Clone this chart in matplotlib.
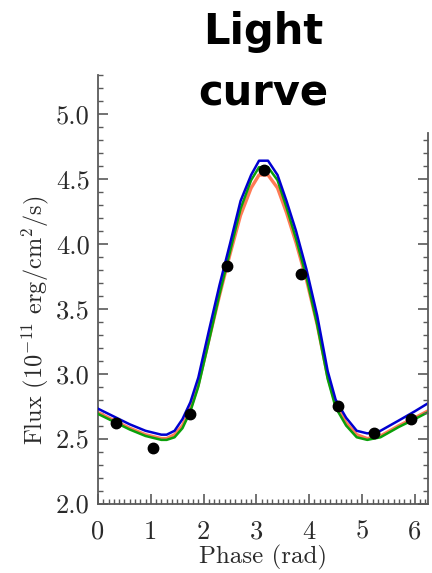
import numpy as np
import matplotlib
matplotlib.use("Agg")
import matplotlib.pyplot as plt
from matplotlib.ticker import MultipleLocator, FixedLocator, FormatStrFormatter

# ---- data ----
phase_obs = [0.349, 1.047, 1.745, 2.443, 3.142, 3.840, 4.538, 5.236, 5.934]
flux_obs = [2.62, 2.43, 2.69, 3.83, 4.57, 3.77, 2.75, 2.54, 2.65]
flux_err = [0.03, 0.03, 0.03, 0.03, 0.04, 0.03, 0.03, 0.03, 0.03]

phase_model = [0.0, 0.3, 0.6, 0.9, 1.2, 1.3, 1.45, 1.6, 1.75, 1.9, 2.1, 2.3, 2.5,
               2.7, 2.9, 3.05, 3.22, 3.4, 3.57, 3.75, 3.95, 4.15, 4.35, 4.5,
               4.7, 4.9, 5.1, 5.35, 5.7, 6.0, 6.283]
flux_blue = [2.73, 2.67, 2.61, 2.56, 2.53, 2.53, 2.56, 2.65, 2.78, 2.97, 3.33,
             3.68, 4.00, 4.33, 4.53, 4.64, 4.64, 4.53, 4.33, 4.10, 3.80, 3.45,
             3.02, 2.80, 2.66, 2.56, 2.54, 2.56, 2.64, 2.71, 2.78]
flux_green = [2.69, 2.63, 2.57, 2.52, 2.49, 2.49, 2.51, 2.58, 2.71, 2.90, 3.25,
              3.61, 3.94, 4.27, 4.49, 4.59, 4.59, 4.49, 4.28, 4.04, 3.74, 3.38,
              2.96, 2.74, 2.60, 2.51, 2.49, 2.51, 2.59, 2.65, 2.71]
flux_red = [2.70, 2.64, 2.58, 2.53, 2.50, 2.50, 2.53, 2.60, 2.73, 2.92, 3.26,
            3.60, 3.92, 4.22, 4.43, 4.53, 4.53, 4.43, 4.24, 4.01, 3.72, 3.38,
            2.98, 2.77, 2.62, 2.53, 2.50, 2.52, 2.60, 2.66, 2.72]

x_ticks = [0, 1, 2, 3, 4, 5, 6]
y_ticks = [2.0, 2.5, 3.0, 3.5, 4.0, 4.5, 5.0]
title = "Light\ncurve"
xlabel = "Phase (rad)"
ylabel = "Flux (10$^{-11}$ erg/cm$^2$/s)"

# ---- style ----
plt.rcParams['font.family'] = ['cmr10', 'DejaVu Serif']
plt.rcParams['mathtext.fontset'] = 'cm'
plt.rcParams['axes.formatter.use_mathtext'] = True

W, H = 432, 573
fig = plt.figure(figsize=(W / 100, H / 100), dpi=100)
ax_l, ax_r, ax_t, ax_b = 98, 428, 75, 503.5
ax = fig.add_axes([ax_l / W, 1 - ax_b / H, (ax_r - ax_l) / W, (ax_b - ax_t) / H])

spine_col = '#5a5a5a'
text_col = '#2a2a2a'

ax.plot(phase_model, flux_red, color='#ff7a55', lw=2.4, zorder=2)
ax.plot(phase_model, flux_green, color='#0aa00a', lw=1.8, zorder=3)
ax.plot(phase_model, flux_blue, color='#0000d0', lw=1.8, zorder=4)
ax.errorbar(phase_obs, flux_obs, yerr=flux_err, fmt='o', color='black',
            ms=7.5, elinewidth=3, capsize=0, zorder=5)

ax.set_xlim(0, 6.25)
ax.set_ylim(2.0, 5.3)

for s in ['top', 'right']:
    ax.spines[s].set_visible(False)
for s in ['left', 'bottom']:
    ax.spines[s].set_color(spine_col)
    ax.spines[s].set_linewidth(1.3)

ax.xaxis.set_major_locator(FixedLocator(x_ticks))
ax.xaxis.set_minor_locator(MultipleLocator(0.1))
ax.yaxis.set_major_locator(FixedLocator(y_ticks))
ax.yaxis.set_minor_locator(MultipleLocator(0.1))
ax.xaxis.set_major_formatter(FormatStrFormatter('%d'))
ax.yaxis.set_major_formatter(FormatStrFormatter('%.1f'))

ax.tick_params(axis='both', which='both', direction='in', color=spine_col,
               labelcolor=text_col, labelsize=19)
ax.tick_params(axis='x', which='major', length=7, width=1.2, pad=12)
ax.tick_params(axis='x', which='minor', length=3.5, width=1.0)
ax.tick_params(axis='y', which='major', length=7, width=1.2, pad=6)
ax.tick_params(axis='y', which='minor', length=3.5, width=1.0)

# right axis (shorter)
axr = ax.twinx()
axr.set_ylim(ax.get_ylim())
for s in ['top', 'left', 'bottom']:
    axr.spines[s].set_visible(False)
axr.spines['right'].set_bounds(2.0, 4.85)
axr.spines['right'].set_color(spine_col)
axr.spines['right'].set_linewidth(1.3)
axr.yaxis.set_major_locator(FixedLocator([v for v in y_ticks if v <= 4.85]))
axr.yaxis.set_minor_locator(FixedLocator([round(2.0 + 0.1 * i, 1) for i in range(29)]))
axr.tick_params(axis='y', which='both', direction='in', color=spine_col,
                labelright=False)
axr.tick_params(axis='y', which='major', length=7, width=1.2)
axr.tick_params(axis='y', which='minor', length=3.5, width=1.0)

fig.text(35 / W, 1 - 320 / H, ylabel, rotation=90, ha='center', va='center',
         fontsize=17.5, color=text_col)
fig.text(263 / W, 1 - 563 / H, xlabel, ha='center', va='baseline',
         fontsize=18, color=text_col)

fig.text(263 / W, 1 - 11 / H, title, ha='center', va='top', fontsize=30,
         fontweight='bold', family='DejaVu Sans', color='black', linespacing=1.6)

fig.savefig('out.png', dpi=100)
